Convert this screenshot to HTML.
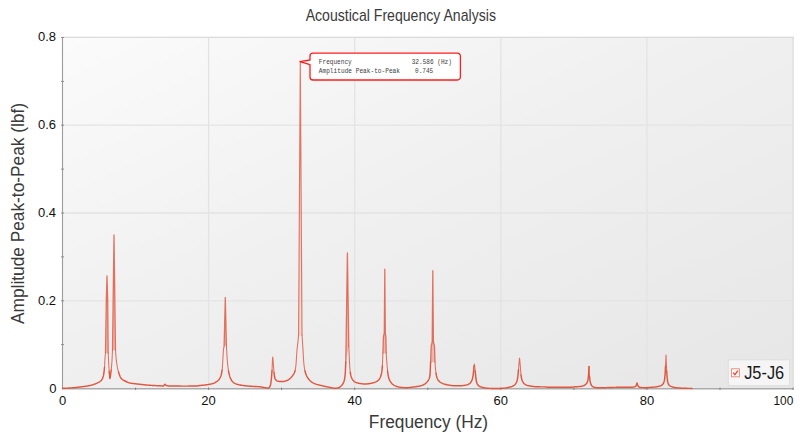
<!DOCTYPE html>
<html lang="en">
<head>
<meta charset="utf-8">
<title>Acoustical Frequency Analysis</title>
<style>
html,body{margin:0;padding:0;background:#fff;}
body{width:800px;height:441px;overflow:hidden;font-family:"Liberation Sans",sans-serif;}
svg{display:block;}
text{font-family:"Liberation Sans",sans-serif;fill:#1a1a1a;}
.tick text{font-size:13px;fill:#111;}
.axl{font-size:18.3px;fill:#3a3a3a;}
.ttl{font-size:16.2px;fill:#3a3a3a;}
.tip text{font-family:"Liberation Mono",monospace;font-size:6.6px;fill:#3c3c3c;}
</style>
</head>
<body>
<svg width="800" height="441" viewBox="0 0 800 441">
<defs>
<linearGradient id="bg" x1="0" y1="0" x2="1" y2="1">
<stop offset="0" stop-color="#fbfbfb"/><stop offset="0.45" stop-color="#f0f0f0"/><stop offset="1" stop-color="#e6e6e6"/>
</linearGradient>
</defs>
<rect width="800" height="441" fill="#fff"/>
<rect x="62.5" y="37.0" width="731.5" height="351.5" fill="url(#bg)"/>
<g stroke="#e3e3e3" stroke-width="1.3"><line x1="208.6" y1="37.5" x2="208.6" y2="388.5"/><line x1="354.7" y1="37.5" x2="354.7" y2="388.5"/><line x1="500.8" y1="37.5" x2="500.8" y2="388.5"/><line x1="646.9" y1="37.5" x2="646.9" y2="388.5"/><line x1="62.5" y1="300.8" x2="793.0" y2="300.8"/><line x1="62.5" y1="213.0" x2="793.0" y2="213.0"/><line x1="62.5" y1="125.2" x2="793.0" y2="125.2"/></g>
<line x1="62.5" y1="37.3" x2="794.0" y2="37.3" stroke="#d2d2d2" stroke-width="1.1"/>
<line x1="793.0" y1="37.5" x2="793.0" y2="388.5" stroke="#e0e0e0" stroke-width="1.5"/>
<line x1="62.5" y1="37.0" x2="62.5" y2="389.2" stroke="#9c9c9c" stroke-width="1.1"/>
<line x1="62.0" y1="388.75" x2="793.5" y2="388.75" stroke="#ababab" stroke-width="1.6"/>
<g stroke="#808080" stroke-width="1"><line x1="135.6" y1="387.6" x2="135.6" y2="390"/><line x1="208.6" y1="387.6" x2="208.6" y2="390"/><line x1="281.6" y1="387.6" x2="281.6" y2="390"/><line x1="354.7" y1="387.6" x2="354.7" y2="390"/><line x1="427.8" y1="387.6" x2="427.8" y2="390"/><line x1="500.8" y1="387.6" x2="500.8" y2="390"/><line x1="573.9" y1="387.6" x2="573.9" y2="390"/><line x1="646.9" y1="387.6" x2="646.9" y2="390"/><line x1="720.0" y1="387.6" x2="720.0" y2="390"/><line x1="793.0" y1="387.6" x2="793.0" y2="390"/></g><g stroke="#8e8e8e" stroke-width="1"><line x1="61" y1="344.6" x2="64" y2="344.6"/><line x1="61" y1="300.8" x2="64" y2="300.8"/><line x1="61" y1="256.9" x2="64" y2="256.9"/><line x1="61" y1="213.0" x2="64" y2="213.0"/><line x1="61" y1="169.1" x2="64" y2="169.1"/><line x1="61" y1="125.2" x2="64" y2="125.2"/><line x1="61" y1="81.4" x2="64" y2="81.4"/><line x1="61" y1="37.5" x2="64" y2="37.5"/></g>
<text class="ttl" x="400.8" y="20.6" text-anchor="middle" textLength="190.3" lengthAdjust="spacingAndGlyphs">Acoustical Frequency Analysis</text>
<g class="tick"><text x="208.6" y="404.8" text-anchor="middle">20</text><text x="354.7" y="404.8" text-anchor="middle">40</text><text x="500.8" y="404.8" text-anchor="middle">60</text><text x="646.9" y="404.8" text-anchor="middle">80</text><text x="62.6" y="404.8" text-anchor="middle">0</text><text x="793.3" y="404.8" text-anchor="end" textLength="19.8" lengthAdjust="spacingAndGlyphs">100</text><text x="56.1" y="304.6" text-anchor="end">0.2</text><text x="56.1" y="216.9" text-anchor="end">0.4</text><text x="56.1" y="129.2" text-anchor="end">0.6</text><text x="56.1" y="41.4" text-anchor="end">0.8</text><text x="56.5" y="392.9" text-anchor="end">0</text></g>
<text class="axl" x="428.5" y="428.3" text-anchor="middle" textLength="119.3" lengthAdjust="spacingAndGlyphs">Frequency (Hz)</text>
<text class="axl" transform="translate(24,213.5) rotate(-90)" text-anchor="middle" textLength="221" lengthAdjust="spacingAndGlyphs">Amplitude Peak-to-Peak (lbf)</text>
<path d="M62.50,388.30 L63.00,388.29 L63.50,388.28 L64.00,388.27 L64.50,388.25 L65.00,388.24 L65.50,388.22 L66.00,388.20 L66.50,388.18 L67.00,388.16 L67.50,388.13 L68.00,388.11 L68.50,388.08 L69.00,388.05 L69.50,388.03 L70.00,388.00 L70.50,387.97 L71.00,387.94 L71.50,387.90 L72.00,387.86 L72.50,387.82 L73.00,387.78 L73.50,387.73 L74.00,387.68 L74.50,387.63 L75.00,387.58 L75.50,387.53 L76.00,387.47 L76.50,387.41 L77.00,387.36 L77.50,387.30 L78.00,387.24 L78.50,387.18 L79.00,387.12 L79.50,387.06 L80.00,387.00 L80.50,386.94 L81.00,386.88 L81.50,386.82 L82.00,386.76 L82.50,386.69 L83.00,386.63 L83.50,386.57 L84.00,386.50 L84.50,386.43 L85.00,386.36 L85.50,386.29 L86.00,386.21 L86.50,386.13 L87.00,386.05 L87.50,385.97 L88.00,385.88 L88.50,385.79 L89.00,385.70 L89.50,385.60 L90.00,385.50 L90.50,385.39 L91.00,385.27 L91.50,385.14 L92.00,385.00 L92.50,384.85 L93.00,384.70 L93.50,384.53 L94.00,384.36 L94.50,384.18 L95.00,384.00 L95.50,383.81 L96.00,383.61 L96.50,383.40 L97.00,383.19 L97.50,382.95 L98.00,382.70 L98.50,382.44 L99.00,382.15 L99.50,381.84 L100.00,381.50 L100.50,381.13 L101.00,380.70 L101.50,380.17 L102.00,379.50 L102.50,378.49 L103.00,377.03 L103.30,376.00 L103.50,375.22 L104.00,372.50 L104.50,367.38 M109.20,371.50 L109.28,372.46 L109.81,378.32 L109.90,378.50 L110.35,376.34 L110.60,374.50 L110.89,372.52 L111.20,370.00 M118.50,371.97 L119.00,373.50 L119.00,373.51 L119.50,374.96 L120.00,376.30 L120.50,377.43 L121.00,378.20 L121.01,378.21 L121.51,378.74 L122.01,379.19 L122.51,379.58 L123.01,379.92 L123.51,380.22 L124.01,380.49 L124.51,380.75 L125.00,381.00 L125.01,381.00 L125.51,381.26 L126.01,381.51 L126.51,381.75 L127.01,381.98 L127.51,382.20 L128.01,382.40 L128.51,382.58 L129.01,382.74 L129.51,382.89 L130.00,383.00 L130.01,383.00 L130.51,383.10 L131.01,383.20 L131.51,383.29 L132.02,383.37 L132.52,383.44 L133.02,383.52 L133.52,383.59 L134.02,383.65 L134.52,383.71 L135.02,383.77 L135.52,383.83 L136.02,383.88 L136.52,383.93 L137.02,383.99 L137.52,384.04 L138.02,384.09 L138.52,384.14 L139.02,384.19 L139.52,384.25 L140.00,384.30 L140.02,384.30 L140.52,384.36 L141.02,384.42 L141.52,384.47 L142.02,384.53 L142.52,384.59 L143.03,384.64 L143.53,384.70 L144.03,384.75 L144.53,384.81 L145.03,384.86 L145.53,384.91 L146.03,384.96 L146.53,385.01 L147.03,385.06 L147.53,385.11 L148.03,385.15 L148.53,385.19 L149.03,385.23 L149.53,385.27 L150.00,385.30 L150.03,385.30 L150.53,385.33 L151.03,385.37 L151.53,385.39 L152.03,385.42 L152.53,385.45 L153.03,385.47 L153.54,385.50 L154.04,385.52 L154.54,385.54 L155.04,385.57 L155.54,385.59 L156.04,385.61 L156.54,385.63 L157.04,385.66 L157.54,385.68 L158.04,385.70 L158.54,385.73 L159.04,385.75 L159.54,385.78 L160.00,385.80 L160.04,385.80 L160.54,385.83 L161.04,385.87 L161.54,385.91 L162.04,385.94 L162.54,385.97 L163.04,385.99 L163.50,386.00 L163.54,386.00 L164.04,385.46 L164.55,384.60 L165.00,384.20 L165.05,384.20 L165.55,384.59 L166.05,385.24 L166.50,385.60 L166.55,385.61 L167.05,385.71 L167.55,385.80 L168.05,385.87 L168.55,385.92 L169.05,385.96 L169.55,385.99 L170.00,386.00 L170.05,386.00 L170.55,386.01 L171.05,386.02 L171.55,386.02 L172.05,386.03 L172.55,386.03 L173.05,386.04 L173.55,386.05 L174.05,386.05 L174.55,386.06 L175.05,386.06 L175.56,386.07 L176.06,386.07 L176.56,386.07 L177.06,386.08 L177.56,386.08 L178.06,386.08 L178.56,386.08 L179.06,386.09 L179.56,386.09 L180.06,386.09 L180.56,386.09 L181.06,386.09 L181.56,386.10 L182.06,386.10 L182.56,386.10 L183.06,386.10 L183.56,386.10 L184.06,386.10 L184.56,386.10 L185.00,386.10 L185.06,386.10 L185.56,386.10 L186.06,386.10 L186.57,386.10 L187.07,386.10 L187.57,386.10 L188.07,386.10 L188.57,386.09 L189.07,386.09 L189.57,386.09 L190.07,386.09 L190.57,386.08 L191.07,386.08 L191.57,386.07 L192.07,386.07 L192.57,386.06 L193.07,386.06 L193.57,386.05 L194.07,386.05 L194.57,386.04 L195.07,386.03 L195.57,386.03 L196.07,386.02 L196.57,386.01 L197.00,386.00 L197.08,386.00 L197.58,385.96 L198.08,385.88 L198.58,385.77 L199.08,385.67 L199.58,385.57 L200.00,385.50 L200.08,385.49 L200.58,385.43 L201.08,385.38 L201.58,385.33 L202.08,385.28 L202.58,385.24 L203.08,385.20 L203.58,385.15 L204.08,385.10 L204.58,385.05 L205.00,385.00 L205.08,384.99 L205.58,384.93 L206.08,384.86 L206.58,384.79 L207.08,384.71 L207.58,384.63 L208.09,384.55 L208.59,384.46 L209.09,384.37 L209.59,384.28 L210.00,384.20 L210.09,384.18 L210.59,384.09 L211.09,383.99 L211.59,383.88 L212.09,383.76 L212.59,383.62 L213.00,383.50 L213.09,383.47 L213.59,383.29 L214.09,383.07 L214.59,382.82 L215.09,382.54 L215.59,382.25 L216.00,382.00 L216.09,381.94 L216.59,381.62 L217.09,381.28 L217.59,380.89 L218.09,380.46 L218.59,379.96 L219.00,379.50 L219.10,379.38 L219.60,378.66 L220.10,377.75 L220.60,376.61 L221.00,375.50 L221.10,375.20 L221.60,373.24 L222.10,370.26 M228.50,371.00 L228.91,373.07 L229.41,375.14 L229.91,376.75 L230.00,377.00 L230.41,378.06 L230.91,379.20 L231.41,380.15 L231.92,380.89 L232.00,381.00 L232.42,381.48 L232.92,382.00 L233.42,382.46 L233.92,382.86 L234.42,383.19 L234.92,383.46 L235.00,383.50 L235.43,383.69 L235.93,383.89 L236.43,384.08 L236.93,384.25 L237.43,384.40 L237.93,384.54 L238.43,384.67 L238.93,384.79 L239.44,384.89 L239.94,384.99 L240.00,385.00 L240.44,385.08 L240.94,385.16 L241.44,385.24 L241.94,385.32 L242.44,385.40 L242.95,385.47 L243.45,385.53 L243.95,385.60 L244.45,385.66 L244.95,385.72 L245.45,385.78 L245.95,385.83 L246.46,385.88 L246.96,385.93 L247.46,385.98 L247.96,386.03 L248.46,386.07 L248.96,386.11 L249.46,386.16 L249.97,386.20 L250.00,386.20 L250.47,386.24 L250.97,386.27 L251.47,386.30 L251.97,386.33 L252.47,386.36 L252.97,386.39 L253.48,386.41 L253.98,386.43 L254.48,386.46 L254.98,386.48 L255.48,386.50 L255.98,386.53 L256.48,386.55 L256.98,386.58 L257.49,386.61 L257.99,386.64 L258.49,386.67 L258.99,386.71 L259.49,386.75 L259.99,386.80 L260.00,386.80 L260.49,386.86 L261.00,386.93 L261.50,387.02 L262.00,387.11 L262.50,387.21 L263.00,387.32 L263.50,387.42 L264.00,387.53 L264.51,387.62 L265.00,387.70 L265.01,387.70 L265.51,387.78 L266.01,387.87 L266.51,387.96 L267.01,388.03 L267.51,388.08 L268.00,388.10 L268.02,388.10 L268.52,387.98 L269.02,387.65 L269.52,387.14 L270.00,386.50 L270.02,386.47 L270.52,384.76 L271.00,382.00 L271.02,381.85 L271.53,377.22 L272.00,371.00 L272.03,370.59 M274.03,372.50 L274.30,375.00 L274.53,376.50 L275.00,378.50 L275.03,378.58 L275.54,379.51 L276.04,380.14 L276.50,380.50 L276.54,380.52 L277.04,380.80 L277.54,381.04 L278.04,381.22 L278.54,381.35 L279.00,381.40 L279.05,381.40 L279.55,381.43 L280.05,381.45 L280.55,381.46 L281.05,381.48 L281.55,381.49 L282.05,381.49 L282.56,381.50 L283.00,381.50 L283.06,381.50 L283.56,381.47 L284.06,381.40 L284.56,381.30 L285.06,381.17 L285.56,381.01 L286.07,380.84 L286.57,380.66 L287.00,380.50 L287.07,380.47 L287.57,380.25 L288.07,379.96 L288.57,379.63 L289.07,379.26 L289.58,378.86 L290.00,378.50 L290.08,378.43 L290.58,377.98 L291.08,377.46 L291.58,376.90 L292.08,376.28 L292.58,375.60 L293.00,375.00 L293.08,374.87 L293.59,374.13 L294.09,373.28 L294.59,372.18 L295.00,371.00 L295.09,370.67 M305.02,371.06 L305.52,373.06 L306.00,374.50 L306.03,374.57 L306.53,375.73 L307.03,376.70 L307.54,377.53 L308.00,378.20 L308.04,378.26 L308.54,378.94 L309.05,379.57 L309.55,380.15 L310.06,380.67 L310.56,381.14 L311.00,381.50 L311.06,381.55 L311.57,381.92 L312.07,382.27 L312.57,382.59 L313.08,382.89 L313.58,383.16 L314.08,383.41 L314.59,383.63 L315.00,383.80 L315.09,383.83 L315.59,384.01 L316.10,384.18 L316.60,384.33 L317.10,384.47 L317.61,384.60 L318.11,384.73 L318.61,384.86 L319.12,384.98 L319.62,385.10 L320.00,385.20 L320.12,385.23 L320.63,385.36 L321.13,385.49 L321.63,385.61 L322.14,385.74 L322.64,385.86 L323.14,385.98 L323.65,386.10 L324.15,386.21 L324.66,386.32 L325.00,386.40 L325.16,386.43 L325.66,386.54 L326.17,386.65 L326.67,386.76 L327.17,386.86 L327.68,386.96 L328.18,387.06 L328.68,387.16 L329.19,387.25 L329.69,387.34 L330.00,387.40 L330.19,387.44 L330.70,387.53 L331.20,387.64 L331.70,387.75 L332.21,387.85 L332.71,387.95 L333.21,388.04 L333.72,388.11 L334.22,388.17 L334.72,388.20 L335.00,388.20 L335.23,388.20 L335.73,388.19 L336.23,388.16 L336.74,388.13 L337.24,388.08 L337.74,388.03 L338.00,388.00 L338.25,387.95 L338.75,387.76 L339.26,387.45 L339.76,387.07 L340.26,386.65 L340.77,386.20 L341.00,386.00 L341.27,385.77 L341.77,385.29 L342.28,384.73 L342.78,384.05 L343.00,383.70 L343.28,383.19 L343.79,382.01 L344.29,380.36 L344.50,379.50 L344.79,377.84 L345.30,373.04 L345.30,373.00 L345.80,362.00 M350.30,372.45 L350.81,375.25 L351.00,376.00 L351.31,376.98 L351.81,378.26 L352.31,379.21 L352.50,379.50 L352.81,379.94 L353.31,380.57 L353.81,381.11 L354.32,381.56 L354.82,381.90 L355.00,382.00 L355.32,382.15 L355.82,382.37 L356.32,382.57 L356.82,382.75 L357.32,382.91 L357.83,383.05 L358.33,383.18 L358.83,383.29 L359.33,383.39 L359.83,383.47 L360.00,383.50 L360.33,383.55 L360.84,383.62 L361.34,383.70 L361.84,383.76 L362.34,383.83 L362.84,383.88 L363.34,383.93 L363.84,383.96 L364.35,383.99 L364.85,384.00 L365.00,384.00 L365.35,384.00 L365.85,383.98 L366.35,383.95 L366.85,383.91 L367.35,383.86 L367.86,383.80 L368.36,383.73 L368.86,383.66 L369.36,383.59 L369.86,383.52 L370.00,383.50 L370.36,383.44 L370.86,383.36 L371.37,383.26 L371.87,383.15 L372.37,383.02 L372.87,382.89 L373.37,382.74 L373.87,382.59 L374.38,382.42 L374.88,382.25 L375.00,382.20 L375.38,382.05 L375.88,381.83 L376.38,381.58 L376.88,381.29 L377.38,380.96 L377.89,380.59 L378.00,380.50 L378.39,380.16 L378.89,379.63 L379.39,378.98 L379.89,378.19 L380.00,378.00 L380.39,377.20 L380.89,375.84 L381.40,373.97 L381.50,373.50 L381.90,371.14 L382.40,366.02 M387.60,371.00 L387.71,371.94 L388.22,375.59 L388.50,377.00 L388.72,377.83 L389.23,379.36 L389.73,380.51 L390.00,381.00 L390.24,381.39 L390.74,382.15 L391.25,382.82 L391.75,383.40 L392.25,383.89 L392.76,384.32 L393.00,384.50 L393.26,384.68 L393.77,385.02 L394.27,385.32 L394.78,385.60 L395.28,385.85 L395.79,386.07 L396.29,386.27 L396.80,386.44 L397.00,386.50 L397.30,386.59 L397.80,386.73 L398.31,386.86 L398.81,386.99 L399.32,387.10 L399.82,387.21 L400.33,387.30 L400.83,387.38 L401.34,387.44 L401.84,387.49 L402.00,387.50 L402.35,387.52 L402.85,387.55 L403.35,387.58 L403.86,387.61 L404.36,387.64 L404.87,387.66 L405.37,387.67 L405.88,387.69 L406.38,387.70 L406.89,387.70 L407.00,387.70 L407.39,387.69 L407.90,387.67 L408.40,387.64 L408.90,387.59 L409.41,387.53 L409.91,387.47 L410.42,387.40 L410.92,387.34 L411.43,387.27 L411.93,387.21 L412.00,387.20 L412.44,387.15 L412.94,387.08 L413.45,387.02 L413.95,386.95 L414.45,386.88 L414.96,386.81 L415.46,386.73 L415.97,386.66 L416.47,386.58 L416.98,386.50 L417.00,386.50 L417.48,386.43 L417.99,386.35 L418.49,386.28 L419.00,386.20 L419.50,386.11 L420.00,386.00 L420.00,386.00 L420.51,385.88 L421.01,385.73 L421.52,385.57 L422.02,385.39 L422.53,385.19 L423.03,384.97 L423.54,384.74 L424.00,384.50 L424.04,384.48 L424.55,384.18 L425.05,383.82 L425.55,383.42 L426.06,382.96 L426.56,382.46 L427.00,382.00 L427.07,381.93 L427.57,381.35 L428.08,380.69 L428.58,379.86 L429.00,379.00 L429.09,378.80 L429.59,377.26 L430.00,375.00 L430.10,374.00 L430.60,362.00 M436.00,373.26 L436.30,375.00 L436.50,375.90 L437.00,377.75 L437.50,379.00 L438.00,379.85 L438.50,380.55 L439.00,381.13 L439.50,381.60 L440.00,382.00 L440.50,382.35 L441.00,382.66 L441.50,382.95 L442.00,383.21 L442.50,383.44 L443.00,383.65 L443.50,383.84 L444.00,384.00 L444.50,384.15 L445.00,384.29 L445.50,384.43 L446.00,384.55 L446.50,384.67 L447.00,384.78 L447.50,384.88 L448.00,384.98 L448.50,385.07 L449.00,385.15 L449.50,385.23 L450.00,385.30 L450.50,385.37 L451.00,385.44 L451.50,385.51 L452.00,385.57 L452.50,385.63 L453.00,385.69 L453.50,385.73 L454.00,385.77 L454.50,385.79 L455.00,385.80 L455.50,385.80 L456.00,385.80 L456.50,385.80 L457.00,385.80 L457.50,385.80 L458.00,385.80 L458.50,385.80 L459.00,385.80 L459.50,385.80 L460.00,385.80 L460.50,385.79 L461.00,385.77 L461.50,385.74 L462.00,385.70 L462.50,385.65 L463.00,385.59 L463.50,385.52 L464.00,385.45 L464.50,385.38 L465.00,385.30 L465.50,385.21 L466.00,385.11 L466.50,384.98 L467.00,384.83 L467.50,384.66 L468.00,384.47 L468.50,384.25 L469.00,384.00 L469.50,383.68 L470.00,383.23 L470.50,382.67 L471.00,382.00 L471.50,381.17 L472.00,380.04 L472.50,378.50 L473.00,375.80 L473.50,372.00 L474.00,365.97 M475.20,371.00 L475.50,374.12 L476.00,379.00 L476.50,381.78 L477.00,383.50 L477.50,384.42 L478.00,385.12 L478.50,385.63 L479.00,386.00 L479.50,386.29 L480.00,386.53 L480.50,386.73 L481.00,386.90 L481.50,387.05 L482.00,387.20 L482.50,387.34 L483.00,387.48 L483.50,387.62 L484.00,387.74 L484.50,387.85 L485.00,387.95 L485.50,388.03 L486.00,388.10 L486.50,388.16 L487.00,388.21 L487.50,388.26 L488.00,388.31 L488.50,388.34 L489.00,388.37 L489.50,388.39 L490.00,388.40 L490.50,388.40 L491.00,388.40 L491.50,388.40 L492.00,388.40 L492.50,388.40 L493.00,388.40 L493.50,388.40 L494.00,388.40 L494.50,388.40 L495.00,388.40 L495.50,388.40 L496.00,388.40 L496.50,388.40 L497.00,388.40 L497.50,388.40 L498.00,388.40 L498.50,388.40 L499.00,388.40 L499.50,388.40 L500.00,388.40 L500.50,388.40 L501.00,388.38 L501.50,388.36 L502.00,388.34 L502.50,388.31 L503.00,388.27 L503.50,388.23 L504.00,388.19 L504.50,388.15 L505.00,388.10 L505.50,388.04 L506.00,387.97 L506.50,387.88 L507.00,387.77 L507.50,387.66 L508.00,387.54 L508.50,387.41 L509.00,387.27 L509.50,387.14 L510.00,387.00 L510.50,386.87 L511.00,386.73 L511.50,386.58 L512.00,386.41 L512.50,386.22 L513.00,386.00 L513.50,385.73 L514.00,385.39 L514.50,384.99 L515.00,384.50 L515.50,383.93 L516.00,383.21 L516.50,382.26 L517.00,381.00 L517.50,378.63 L518.00,375.00 L518.50,369.62 M521.00,375.00 L521.50,378.08 L522.00,380.00 L522.50,381.23 L523.00,382.20 L523.50,382.95 L524.00,383.50 L524.50,383.93 L525.00,384.31 L525.50,384.63 L526.00,384.90 L526.50,385.12 L527.00,385.30 L527.50,385.45 L528.00,385.58 L528.50,385.70 L529.00,385.81 L529.50,385.91 L530.00,386.00 L530.50,386.08 L531.00,386.16 L531.50,386.23 L532.00,386.30 L532.50,386.37 L533.00,386.43 L533.50,386.50 L534.00,386.56 L534.50,386.62 L535.00,386.67 L535.50,386.72 L536.00,386.75 L536.50,386.78 L537.00,386.80 L537.50,386.81 L538.00,386.82 L538.50,386.83 L539.00,386.83 L539.50,386.84 L540.00,386.84 L540.50,386.85 L541.00,386.85 L541.50,386.85 L542.00,386.86 L542.50,386.86 L543.00,386.86 L543.50,386.87 L544.00,386.88 L544.50,386.89 L545.00,386.90 L545.50,386.93 L546.00,386.98 L546.50,387.05 L547.00,387.12 L547.50,387.17 L548.00,387.20 L548.50,387.21 L549.00,387.22 L549.50,387.23 L550.00,387.23 L550.50,387.24 L551.00,387.25 L551.50,387.25 L552.00,387.26 L552.50,387.26 L553.00,387.27 L553.50,387.27 L554.00,387.28 L554.50,387.28 L555.00,387.28 L555.50,387.29 L556.00,387.29 L556.50,387.29 L557.00,387.29 L557.50,387.30 L558.00,387.30 L558.50,387.30 L559.00,387.30 L559.50,387.30 L560.00,387.30 L560.50,387.30 L561.00,387.30 L561.50,387.30 L562.00,387.30 L562.50,387.30 L563.00,387.30 L563.50,387.30 L564.00,387.30 L564.50,387.30 L565.00,387.30 L565.50,387.30 L566.00,387.30 L566.50,387.30 L567.00,387.30 L567.50,387.30 L568.00,387.30 L568.50,387.30 L569.00,387.30 L569.50,387.30 L570.00,387.30 L570.50,387.29 L571.00,387.26 L571.50,387.22 L572.00,387.16 L572.50,387.10 L573.00,387.03 L573.50,386.96 L574.00,386.90 L574.50,386.84 L575.00,386.80 L575.50,386.77 L576.00,386.74 L576.50,386.71 L577.00,386.69 L577.50,386.67 L578.00,386.64 L578.50,386.61 L579.00,386.58 L579.50,386.55 L580.00,386.50 L580.50,386.44 L581.00,386.36 L581.50,386.27 L582.00,386.15 L582.50,386.01 L583.00,385.86 L583.50,385.69 L584.00,385.50 L584.50,385.26 L585.00,384.95 L585.50,384.56 L586.00,384.07 L586.50,383.50 L587.00,382.78 L587.50,381.69 L588.00,380.00 L588.50,375.31 L588.60,374.00 L589.00,366.50 M589.50,376.00 L590.00,380.44 L590.50,383.00 L591.00,384.40 L591.50,385.39 L592.00,386.00 L592.50,386.40 L593.00,386.74 L593.50,387.03 L594.00,387.25 L594.50,387.41 L595.00,387.50 L595.50,387.55 L596.00,387.60 L596.50,387.65 L597.00,387.69 L597.50,387.72 L598.00,387.75 L598.50,387.77 L599.00,387.79 L599.50,387.80 L600.00,387.80 L600.50,387.80 L601.00,387.79 L601.50,387.79 L602.00,387.78 L602.50,387.76 L603.00,387.75 L603.50,387.73 L604.00,387.72 L604.50,387.70 L605.00,387.68 L605.50,387.66 L606.00,387.64 L606.50,387.62 L607.00,387.60 L607.50,387.58 L608.00,387.56 L608.50,387.54 L609.00,387.53 L609.50,387.51 L610.00,387.50 L610.50,387.49 L611.00,387.47 L611.50,387.46 L612.00,387.45 L612.50,387.44 L613.00,387.42 L613.50,387.41 L614.00,387.40 L614.50,387.38 L615.00,387.37 L615.50,387.36 L616.00,387.35 L616.50,387.34 L617.00,387.33 L617.50,387.32 L618.00,387.31 L618.50,387.31 L619.00,387.30 L619.50,387.30 L620.00,387.30 L620.50,387.30 L621.00,387.30 L621.50,387.30 L622.00,387.30 L622.50,387.30 L623.00,387.30 L623.50,387.30 L624.00,387.30 L624.50,387.30 L625.00,387.30 L625.50,387.30 L626.00,387.30 L626.50,387.30 L627.00,387.30 L627.50,387.30 L628.00,387.30 L628.50,387.30 L629.00,387.30 L629.50,387.30 L630.00,387.30 L630.50,387.29 L631.00,387.28 L631.50,387.26 L632.00,387.22 L632.50,387.18 L633.00,387.13 L633.50,387.07 L634.00,387.00 L634.50,386.89 L635.00,386.70 L635.50,386.40 L636.00,386.00 L636.50,384.38 L637.00,383.00 L637.50,384.35 L638.00,386.00 L638.50,386.55 L639.00,386.97 L639.50,387.26 L640.00,387.40 L640.50,387.46 L641.00,387.51 L641.50,387.56 L642.00,387.60 L642.50,387.63 L643.00,387.65 L643.50,387.67 L644.00,387.69 L644.50,387.70 L645.00,387.70 L645.50,387.69 L646.00,387.68 L646.50,387.66 L647.00,387.63 L647.50,387.59 L648.00,387.55 L648.50,387.52 L649.00,387.48 L649.50,387.44 L650.00,387.40 L650.50,387.37 L651.00,387.33 L651.50,387.30 L652.00,387.26 L652.50,387.23 L653.00,387.19 L653.50,387.15 L654.00,387.10 L654.50,387.05 L655.00,387.00 L655.50,386.94 L656.00,386.87 L656.50,386.80 L657.00,386.72 L657.50,386.63 L658.00,386.53 L658.50,386.42 L659.00,386.29 L659.50,386.15 L660.00,386.00 L660.50,385.82 L661.00,385.59 L661.50,385.31 L662.00,384.95 L662.50,384.52 L663.00,384.00 L663.50,383.22 L664.00,381.93 L664.50,380.00 L665.00,375.30 L665.30,371.00 L665.50,366.28 M666.70,371.00 L667.00,375.74 L667.50,381.00 L668.00,382.97 L668.50,384.25 L669.00,385.00 L669.50,385.48 L670.00,385.87 L670.50,386.18 L671.00,386.43 L671.50,386.63 L672.00,386.80 L672.50,386.95 L673.00,387.09 L673.50,387.21 L674.00,387.33 L674.50,387.43 L675.00,387.53 L675.50,387.61 L676.00,387.68 L676.50,387.75 L677.00,387.80 L677.50,387.85 L678.00,387.89 L678.50,387.94 L679.00,387.98 L679.50,388.02 L680.00,388.06 L680.50,388.09 L681.00,388.13 L681.50,388.16 L682.00,388.18 L682.50,388.21 L683.00,388.23 L683.50,388.25 L684.00,388.27 L684.50,388.29 L685.00,388.30 L685.50,388.31 L686.00,388.32 L686.50,388.33 L687.00,388.34 L687.50,388.35 L688.00,388.36 L688.50,388.37 L689.00,388.38 L689.50,388.38 L690.00,388.39 L690.50,388.39 L691.00,388.40 L691.50,388.40 L692.00,388.40" fill="none" stroke="#e0563e" stroke-width="1.45" stroke-linejoin="round" stroke-linecap="round"/>
<path d="M104.50,367.38 L104.60,366.00 L105.00,358.00 L105.50,353.00 M108.20,353.00 L108.60,362.00 L108.74,364.50 L109.20,371.50 M111.20,370.00 L111.42,367.92 L111.96,361.56 L112.00,361.00 L112.50,350.00 M115.50,350.00 L116.00,357.00 L116.00,357.00 L116.50,361.61 L117.00,365.24 L117.40,367.50 L117.50,368.00 L118.00,370.18 L118.50,371.97 M222.10,370.26 L222.20,369.50 L222.60,364.29 L222.80,361.00 L223.10,355.21 L223.30,352.00 L223.60,348.90 L224.10,346.00 M226.40,345.00 L226.90,355.00 L226.90,355.02 L227.40,361.48 L227.50,362.50 L227.90,366.48 L228.41,370.44 L228.50,371.00 M272.03,370.59 L272.53,358.66 L272.70,357.00 L273.03,359.42 L273.50,366.00 L273.53,366.35 L274.03,372.50 M295.09,370.67 L295.59,367.83 L296.00,364.50 L296.09,363.55 L296.59,355.92 L297.00,350.00 L297.10,348.99 L297.60,344.62 L297.90,342.00 L298.10,340.09 L298.60,335.00 M302.00,335.00 L302.50,342.00 L302.50,342.05 L303.00,350.00 L303.01,350.11 L303.51,358.99 L303.80,363.00 L304.01,365.01 L304.52,368.55 L304.60,369.00 L305.02,371.06 M348.80,346.00 L349.30,358.00 L349.30,358.03 L349.80,367.56 L350.00,370.00 L350.30,372.45 M382.40,366.02 L382.40,366.00 L382.90,353.00 M386.20,353.00 L386.70,360.73 L386.80,362.00 L387.21,367.06 L387.60,371.00 M435.00,362.00 L435.50,368.98 L435.60,370.00 L436.00,373.26 M474.00,365.97 L474.30,364.00 L474.50,364.58 L475.00,369.06 L475.20,371.00 M518.50,369.62 L518.80,366.00 L519.00,363.26 L519.50,358.00 L520.00,362.15 L520.30,366.00 L520.50,368.63 L521.00,375.00 M589.00,366.50 L589.50,376.00 M665.50,366.28 L666.00,355.00 L666.50,366.17 L666.70,371.00" fill="none" stroke="#e0563e" stroke-opacity="0.82" stroke-width="1.08" stroke-linejoin="round" stroke-linecap="round"/>
<path d="M298.60,335.00 L300.30,61.70 L302.00,335.00" fill="#e0563e" fill-opacity="0.1" stroke="#e0563e" stroke-opacity="0.8" stroke-width="1.15" stroke-linejoin="round" stroke-linecap="round"/>
<path d="M105.50,353.00 L106.30,300.00 L107.00,276.00 L107.70,300.00 L108.20,353.00 M112.50,350.00 L114.00,235.00 L115.50,350.00 M224.10,346.00 L225.30,297.50 L226.40,345.00 M345.80,362.00 L347.40,253.00 L348.80,346.00 M382.90,353.00 L383.40,337.00 L384.30,333.00 L384.80,269.20 L385.30,333.00 L385.90,337.00 L386.20,353.00 M430.60,362.00 L431.20,346.00 L432.20,342.00 L432.80,270.70 L433.40,342.00 L434.50,346.00 L435.00,362.00" fill="#e0563e" fill-opacity="0.33" stroke="#e0563e" stroke-opacity="0.8" stroke-width="1.3" stroke-linejoin="round" stroke-linecap="round"/>
<g>
<rect x="728.3" y="359.8" width="61.4" height="25.9" fill="#f5f5f5" stroke="#dedede" stroke-width="1"/>
<rect x="731.4" y="368.8" width="8" height="8" fill="#fdf6f4" stroke="#e4897a" stroke-width="0.9"/>
<path d="M733.2,372.6 L734.9,374.6 L737.9,370.6" fill="none" stroke="#dd4a34" stroke-width="1.3"/>
<text x="744.2" y="378.5" font-size="18" textLength="40" lengthAdjust="spacingAndGlyphs" fill="#222">J5-J6</text>
</g>
<g class="tip">
<path d="M313,53.1 H457.4 a3,3 0 0 1 3,3 V77 a3,3 0 0 1 -3,3 H313 a3,3 0 0 1 -3,-3 V64.6 L300,61.6 L310,60 V56.1 a3,3 0 0 1 3,-3 Z" fill="#fff" stroke="#ff1c1c" stroke-width="1.3" stroke-linejoin="round"/>
<text x="318.8" y="63.6" textLength="33" lengthAdjust="spacingAndGlyphs">Frequency</text>
<text x="411.7" y="63.6" textLength="40.2" lengthAdjust="spacingAndGlyphs">32.586 (Hz)</text>
<text x="318.8" y="72.6" textLength="81.2" lengthAdjust="spacingAndGlyphs">Amplitude Peak-to-Peak</text>
<text x="415" y="72.6" textLength="18.2" lengthAdjust="spacingAndGlyphs">0.745</text>
</g>
</svg>
</body>
</html>
